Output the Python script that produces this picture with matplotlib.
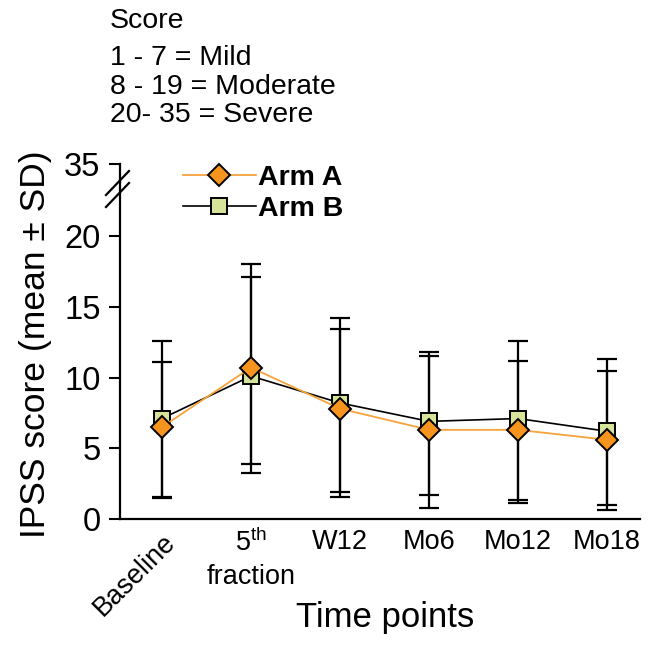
import numpy as np
import matplotlib
matplotlib.use('Agg')
import matplotlib.pyplot as plt
from matplotlib.lines import Line2D

plt.rcParams['font.family'] = ['Liberation Sans', 'DejaVu Sans']
plt.rcParams['mathtext.fontset'] = 'custom'
plt.rcParams['mathtext.rm'] = 'Liberation Sans'

# data
time_points = ['Baseline', '5$^{\\mathrm{th}}$\nfraction', 'W12', 'Mo6', 'Mo12', 'Mo18']
arm_a_mean = [6.5, 10.7, 7.8, 6.3, 6.3, 5.6]
arm_a_high = [11.12, 18.0, 13.41, 11.54, 11.19, 10.48]
arm_a_low = [1.55, 3.23, 1.93, 0.80, 1.34, 0.61]
arm_b_mean = [7.1, 10.1, 8.2, 6.9, 7.1, 6.2]
arm_b_high = [12.58, 17.08, 14.23, 11.78, 12.58, 11.31]
arm_b_low = [1.50, 3.87, 1.58, 1.70, 1.11, 0.99]
score_lines = ['1 - 7 = Mild', '8 - 19 = Moderate', '20- 35 = Severe']

W, H = 656, 646
def fx(px): return px / W
def fy(py): return 1 - py / H

fig = plt.figure(figsize=(6.56, 6.46), dpi=100)
ax = fig.add_axes([fx(120), fy(519), fx(520), 337 / H])
ax_top = fig.add_axes([fx(120), fy(182), fx(520), 18 / H])

x = np.arange(len(time_points))
orange_line = '#F5A33A'
orange_fill = '#F7941D'
green_fill = '#D5E39B'

for mean, low, high in [(arm_b_mean, arm_b_low, arm_b_high), (arm_a_mean, arm_a_low, arm_a_high)]:
    mean = np.array(mean)
    err = [mean - np.array(low), np.array(high) - mean]
    ax.errorbar(x, mean, yerr=err, fmt='none', ecolor='black', elinewidth=1.6,
                capsize=7, capthick=1.6, zorder=2)

ax.plot(x, arm_b_mean, color='black', lw=1.2, marker='s', ms=11,
        mfc=green_fill, mec='black', mew=1.4, zorder=3, label='Arm B')
ax.plot(x, arm_a_mean, color=orange_line, lw=1.3, marker='D', ms=11,
        mfc=orange_fill, mec='black', mew=1.4, zorder=4, label='Arm A')

ax.set_xlim(-0.472, 5.37)
ax.set_ylim(0, 337 / 14.15)
ax.set_yticks([0, 5, 10, 15, 20])
ax.set_xticks(x)
ax.set_xticklabels(time_points, fontsize=19.5)
ax.tick_params(axis='x', length=0, pad=7)
ax.tick_params(axis='y', labelsize=23.5, width=1.5, length=8, pad=6)
lbl = ax.get_xticklabels()[0]
lbl.set_rotation(45)
lbl.set_ha('right')
lbl.set_va('top')
lbl.set_rotation_mode('anchor')
ax.get_xticklabels()[1].set_linespacing(1.35)
for s in ['top', 'right']:
    ax.spines[s].set_visible(False)
for s in ['left', 'bottom']:
    ax.spines[s].set_linewidth(1.6)
ax.set_xlabel('Time points', fontsize=25)
ax.xaxis.set_label_coords((385 - 120) / 520, (519 - 601) / 337)
ax.set_ylabel('IPSS score (mean ± SD)', fontsize=25.5)
ax.yaxis.set_label_coords((52 - 120) / 520, (519 - 344) / 337)

ax_top.set_ylim(34, 35)
ax_top.set_xlim(ax.get_xlim())
ax_top.set_yticks([35])
ax_top.set_xticks([])
ax_top.tick_params(axis='y', labelsize=23.5, width=1.5, length=8, pad=6)
ax_top.patch.set_visible(False)
for s in ['top', 'right', 'bottom']:
    ax_top.spines[s].set_visible(False)
ax_top.spines['left'].set_linewidth(1.6)

# axis break marks
for cy in [183, 195]:
    fig.add_artist(Line2D([fx(106), fx(129)], [fy(cy + 12), fy(cy - 12)],
                          color='black', lw=1.6))

# legend
handles, labels = ax.get_legend_handles_labels()
fig.legend(handles[::-1], labels[::-1], loc='center left',
           bbox_to_anchor=(fx(183), fy(193.5)), frameon=False,
           prop={'size': 20.5, 'weight': 'bold'}, handlelength=2.55,
           handletextpad=0.1, labelspacing=0.18, borderpad=0, borderaxespad=0)

# score legend text
fig.text(fx(110), fy(28), 'Score', fontsize=20.5, va='baseline')
for i, t in enumerate(score_lines):
    fig.text(fx(110), fy(65 + 28.5 * i), t, fontsize=20.5, va='baseline')

fig.savefig('out.png', dpi=100)
